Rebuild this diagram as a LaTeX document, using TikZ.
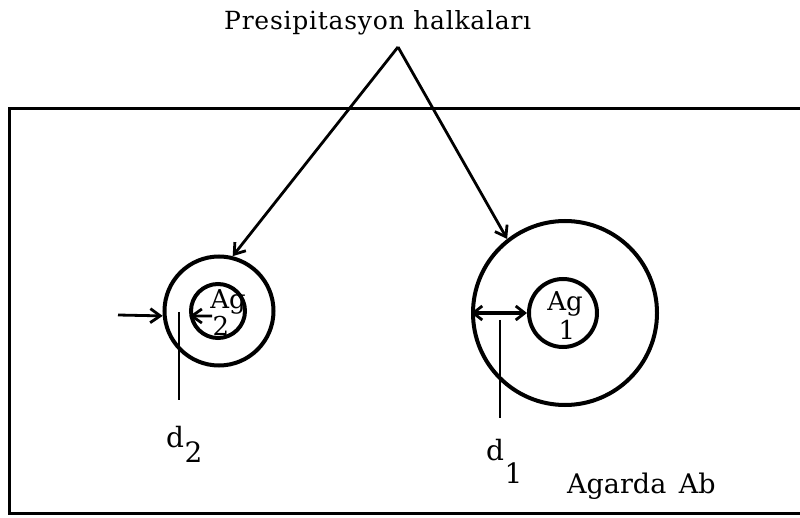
\documentclass[tikz,border=0pt]{standalone}
\usepackage{fontspec}
\setmainfont{DejaVu Serif}
\newfontfamily\spaced[LetterSpace=3]{DejaVu Serif}
\usetikzlibrary{arrows.meta}
\begin{document}
\begin{tikzpicture}[x=1pt,y=-1pt,
  ring/.style={circle,draw,line width=4pt,inner sep=0pt},
  frame/.style={line width=3pt},
  ptr/.style={line width=2.8pt,-{Straight Barb[length=10pt,width=14pt,line width=2.8pt]}},
  dbl/.style={line width=4pt,{Straight Barb[length=9pt,width=14pt,line width=2.8pt]}-{Straight Barb[length=9pt,width=14pt,line width=2.8pt]}},
  tick/.style={line width=2.7pt},
  lab/.style={inner sep=0pt,font=\fontsize{26}{30}\selectfont}]
\useasboundingbox (0,0) rectangle (800,518);
% frame (open on the right)
\draw[frame] (800,109) -- (9,109) -- (9,513) -- (800,513);
% title
\node[inner sep=0pt,anchor=base west,font=\spaced\fontsize{25}{30}\selectfont] (title) at (224,30) {Presipitasyon halkaları};
\coordinate (apex) at (398,47);
% rings
\node[ring,minimum size=109pt] (o2) at (219,311) {};
\node[ring,minimum size=54pt] (i2) at (218,311) {};
\node[ring,minimum size=184pt] (o1) at (565,313) {};
\node[ring,minimum size=68pt] (i1) at (563,313) {};
% Ag labels
\node[lab,anchor=base] (ag2) at (228,309) {Ag};
\node[lab,anchor=base] (n2) at (221,335) {2};
\node[lab,anchor=base] (ag1) at (565,311) {Ag};
\node[lab,anchor=base] (n1) at (567,340) {1};
% pointer arrows from title
\draw[ptr] (apex) -- (o2.76);
\draw[ptr] (apex) -- (o1.128);
% left measurement
\coordinate (la) at (118,315);
\draw[ptr] (la) -- (o2.185);
\coordinate (lb) at (212,316);
\draw[ptr] (lb) -- (i2.190);
\coordinate (v2a) at (179,312);
\coordinate (v2b) at (179,400);
\draw[tick] (v2a) -- (v2b);
% right measurement
\draw[dbl] (o1.west) -- (i1.west);
\coordinate (v1a) at (500,320);
\coordinate (v1b) at (500,418);
\draw[tick] (v1a) -- (v1b);
% d labels
\node[inner sep=0pt,anchor=base west,font=\fontsize{28}{32}\selectfont] (d2) at (166,447) {d\kern0.5pt\raisebox{-15pt}{2}};
\node[inner sep=0pt,anchor=base west,font=\fontsize{28}{32}\selectfont] (d1) at (486,460) {d\kern0.5pt\raisebox{-23pt}{1}};
% medium label
\node[inner sep=0pt,anchor=base west,font=\fontsize{27}{32}\selectfont] (agar) at (567,493) {Agarda\hspace{4pt} Ab};
\end{tikzpicture}
\end{document}
